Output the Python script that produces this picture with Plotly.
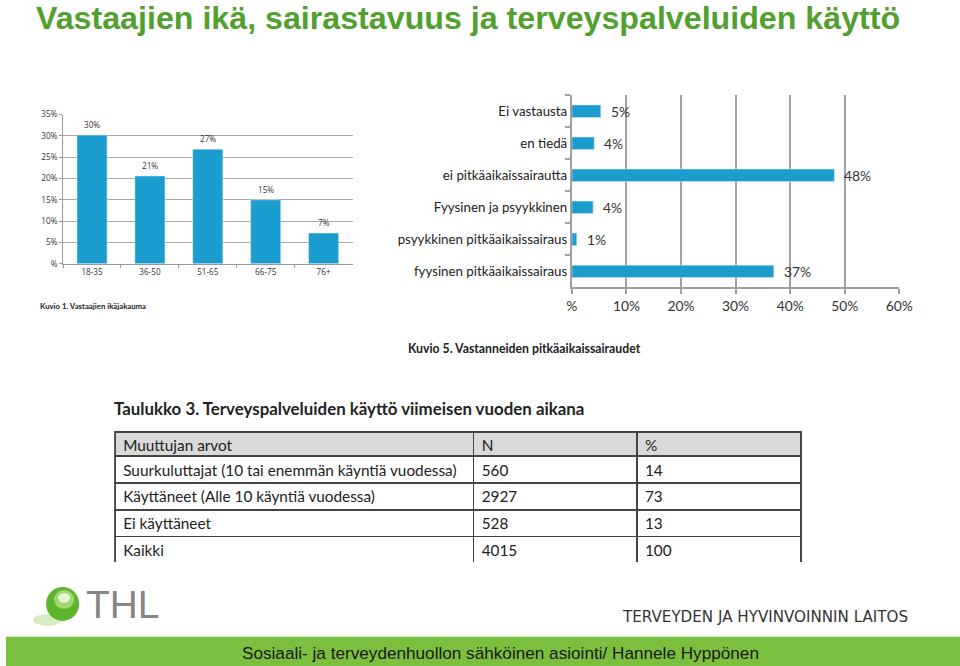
import plotly.graph_objects as go

# The photographed page appears slightly scaled and offset; the figure is sized
# to fill the photo and positions are given in reference pixels.
SX, OX = 0.978, 6.0
SY, OY = 0.989, 3.8
W, H = 976, 675
def px(x): return ((x - OX) / SX) / W
def py(y): return 1 - ((y - OY) / SY) / H
def fs(v): return v / SX

# ---- data ----
age_groups = ["18-35", "36-50", "51-65", "66-75", "76+"]
age_share = [30.2, 20.6, 26.9, 15.0, 7.2]
age_ticks = [0, 5, 10, 15, 20, 25, 30, 35]
age_tick_text = ["%", "5%", "10%", "15%", "20%", "25%", "30%", "35%"]

disease_cats = ["Ei vastausta", "en tiedä", "ei pitkäaikaissairautta",
                "Fyysinen ja psyykkinen", "psyykkinen pitkäaikaissairaus",
                "fyysinen pitkäaikaissairaus"]
disease_share = [5.3, 4.1, 48.1, 3.9, 0.9, 37.0]
disease_ticks = [0, 10, 20, 30, 40, 50, 60]
disease_tick_text = ["%", "10%", "20%", "30%", "40%", "50%", "60%"]

table_header = ["Muuttujan arvot", "N", "%"]
table_rows = ["Suurkuluttajat (10 tai enemmän käyntiä vuodessa)",
              "Käyttäneet (Alle 10 käyntiä vuodessa)",
              "Ei käyttäneet", "Kaikki"]
table_n = [560, 2927, 528, 4015]
table_pct = [14, 73, 13, 100]

BLUE = "#1b9dd0"
GREEN = "#52a02f"

fig = go.Figure()

# ---- left: age distribution ----
fig.add_trace(go.Bar(x=age_groups, y=age_share, marker_color=BLUE,
                     xaxis="x", yaxis="y", showlegend=False, hoverinfo="skip"))
for g, v in zip(age_groups, age_share):
    fig.add_annotation(x=g, y=v, xref="x", yref="y", text=f"{round(v)}%",
                       showarrow=False, yanchor="bottom", yshift=3,
                       font=dict(family="Open Sans", size=fs(8), color="#333"))

# ---- right: long-term illnesses ----
fig.add_trace(go.Bar(y=disease_cats, x=disease_share, orientation="h",
                     marker_color=BLUE, width=0.39,
                     xaxis="x2", yaxis="y2", showlegend=False, hoverinfo="skip"))
for c, v in zip(disease_cats, disease_share):
    fig.add_annotation(x=v, y=c, xref="x2", yref="y2", text=f"{round(v)}%",
                       showarrow=False, xanchor="left", xshift=8,
                       font=dict(family="Lato", size=fs(13.5), color="#333"))

# ---- table ----
fig.add_trace(go.Table(
    domain=dict(x=[px(115), px(800)], y=[py(563), py(432)]),
    columnwidth=[358, 163, 164],
    header=dict(values=table_header, fill_color="#d9d9d9", height=24 / SY,
                align="left", line=dict(color="#444", width=1.5),
                font=dict(family="Lato", size=fs(15), color="#222")),
    cells=dict(values=[table_rows, table_n, table_pct], fill_color="white",
               height=26.5 / SY, align="left", line=dict(color="#444", width=1.5),
               font=dict(family="Lato", size=fs(15), color="#222")),
))

fig.update_layout(
    width=W, height=H, margin=dict(l=0, r=0, t=0, b=0),
    paper_bgcolor="white", plot_bgcolor="white",
    bargap=0.48,
    xaxis=dict(domain=[px(63), px(352)], type="category",
               showline=True, linecolor="#999", linewidth=1,
               ticks="outside", tickson="boundaries", ticklen=3, tickcolor="#999",
               tickfont=dict(family="Open Sans", size=fs(8), color="#333"),
               showgrid=False, fixedrange=True),
    yaxis=dict(domain=[py(263), py(113)], range=[0, 35],
               tickvals=age_ticks, ticktext=age_tick_text,
               showgrid=True, gridcolor="#aaa", gridwidth=1,
               showline=True, linecolor="#999", linewidth=1,
               ticks="outside", ticklen=3, tickcolor="#999",
               tickfont=dict(family="Open Sans", size=fs(8), color="#333"),
               zeroline=False, fixedrange=True),
    xaxis2=dict(domain=[px(571), px(898)], range=[0, 60], anchor="y2",
                tickvals=disease_ticks, ticktext=disease_tick_text,
                showgrid=True, gridcolor="#a0a0a0", gridwidth=2,
                showline=True, linecolor="#a0a0a0", linewidth=2,
                ticks="outside", ticklen=5, tickcolor="#a0a0a0", tickwidth=2,
                tickfont=dict(family="Lato", size=fs(13.5), color="#333"),
                zeroline=False, fixedrange=True),
    yaxis2=dict(domain=[py(286.7), py(93.5)], anchor="x2", type="category",
                categoryorder="array", categoryarray=disease_cats[::-1],
                showline=True, linecolor="#a0a0a0", linewidth=2,
                ticks="outside", tickson="boundaries", ticklen=5,
                tickcolor="#a0a0a0", tickwidth=2,
                tickfont=dict(family="Lato", size=fs(13), color="#222"),
                showgrid=False, fixedrange=True),
)

# ---- texts ----
fig.add_annotation(x=px(34), y=py(16), xref="paper", yref="paper",
                   text="<b>Vastaajien ikä, sairastavuus ja terveyspalveluiden käyttö</b>",
                   showarrow=False, xanchor="left", yanchor="middle",
                   font=dict(family="Liberation Sans", size=fs(31.5), color=GREEN))
fig.add_annotation(x=px(38), y=py(305), xref="paper", yref="paper",
                   text="<b>Kuvio 1. Vastaajien ikäjakauma</b>", showarrow=False,
                   xanchor="left", yanchor="middle",
                   font=dict(family="Lato", size=fs(7.6), color="#222"))
fig.add_annotation(x=px(405), y=py(348), xref="paper", yref="paper",
                   text="<b>Kuvio 5. Vastanneiden pitkäaikaissairaudet</b>",
                   showarrow=False, xanchor="left", yanchor="middle",
                   font=dict(family="Lato", size=fs(12), color="#222"))
fig.add_annotation(x=px(112), y=py(408), xref="paper", yref="paper",
                   text="<b>Taulukko 3. Terveyspalveluiden käyttö viimeisen vuoden aikana</b>",
                   showarrow=False, xanchor="left", yanchor="middle",
                   font=dict(family="Lato", size=fs(16.5), color="#222"))

# ---- footer / logo ----
fig.add_shape(type="rect", xref="paper", yref="paper",
              x0=0, x1=1, y0=0, y1=py(638), fillcolor="#7bbf3e",
              line_width=0, layer="below")
fig.add_annotation(x=px(500), y=py(654), xref="paper", yref="paper",
                   text="Sosiaali- ja terveydenhuollon sähköinen asiointi/ Hannele Hyppönen",
                   showarrow=False, xanchor="center", yanchor="middle",
                   font=dict(family="Liberation Sans", size=fs(16.8), color="#1a1a1a"))
fig.add_annotation(x=px(909), y=py(618), xref="paper", yref="paper",
                   text="TERVEYDEN JA HYVINVOINNIN LAITOS", showarrow=False,
                   xanchor="right", yanchor="middle",
                   font=dict(family="DejaVu Sans", size=fs(14.8), color="#333"))
fig.add_shape(type="circle", xref="paper", yref="paper",
              x0=px(33), x1=px(62), y0=py(627), y1=py(615),
              fillcolor="#d6ecc4", line_width=0)
fig.add_shape(type="circle", xref="paper", yref="paper",
              x0=px(46), x1=px(79), y0=py(622), y1=py(588),
              fillcolor="#5cb52c", line_width=0)
fig.add_shape(type="circle", xref="paper", yref="paper",
              x0=px(54), x1=px(74), y0=py(610), y1=py(591),
              fillcolor="#9fd873", line_width=0)
fig.add_shape(type="circle", xref="paper", yref="paper",
              x0=px(58), x1=px(70), y0=py(604), y1=py(594),
              fillcolor="#e4f5d2", line_width=0)
fig.add_annotation(x=px(84), y=py(606), xref="paper", yref="paper",
                   text="THL", showarrow=False, xanchor="left", yanchor="middle",
                   font=dict(family="Liberation Sans", size=fs(38), color="#858585"))

fig.write_html("out.html", config={"displayModeBar": False},
               post_script="document.documentElement.style.overflow='hidden';"
                           "document.body.style.margin='0';document.body.style.overflow='hidden';")
